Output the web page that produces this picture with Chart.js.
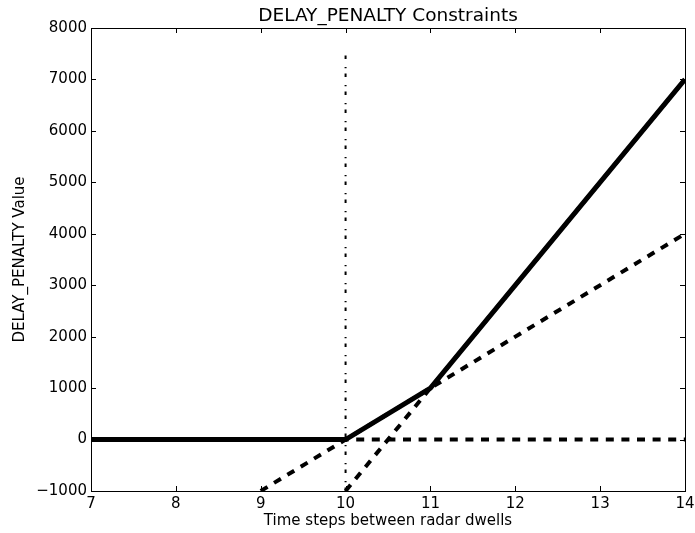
<!DOCTYPE html>
<html>
<head>
<meta charset="utf-8">
<script src="https://cdn.jsdelivr.net/npm/chart.js@4/dist/chart.umd.min.js"></script>
<style>
  html, body { margin: 0; padding: 0; background: #fff; }
  #wrap { width: 695px; height: 533px; }
</style>
</head>
<body>
<div id="wrap"><canvas id="chart" width="695" height="533"></canvas></div>
<script>
"use strict";

// penalty curve (the max of the constraints)
const penaltyX = [7, 10, 11, 14];
const penaltyY = [0, 0, 1000, 7000];

// constraint lines
const zeroX = [7, 14];
const zeroY = [0, 0];
const slowX = [9, 14];
const slowY = [-1000, 4000];
const fastX = [10, 14];
const fastY = [-1000, 7000];

// vertical marker at the dwell limit
const limitX = [10, 10];
const limitY = [-1000, 7500];

const xTicks = [7, 8, 9, 10, 11, 12, 13, 14];
const yTicks = [-1000, 0, 1000, 2000, 3000, 4000, 5000, 6000, 7000, 8000];

const FONT = "'DejaVu Sans', sans-serif";

function toPoints(xs, ys) {
  return xs.map((x, i) => ({ x: x, y: ys[i] }));
}

function lineSet(xs, ys, width, dash) {
  return {
    data: toPoints(xs, ys),
    borderColor: '#000',
    borderWidth: width,
    borderDash: dash,
    borderCapStyle: 'butt',
    borderJoinStyle: 'miter',
    pointRadius: 0,
    tension: 0,
    fill: false
  };
}

/**
 * Draws the axes frame and the inward tick marks on all four sides.
 */
const framePlugin = {
  id: 'frame',
  afterDraw(chart) {
    const ctx = chart.ctx;
    const area = chart.chartArea;
    const xs = chart.scales.x;
    const ys = chart.scales.y;
    const len = 5;
    ctx.save();
    ctx.strokeStyle = '#000';
    ctx.lineWidth = 1;
    ctx.beginPath();
    xTicks.forEach(v => {
      const px = Math.round(xs.getPixelForValue(v)) + 0.5;
      ctx.moveTo(px, area.bottom);
      ctx.lineTo(px, area.bottom - len);
      ctx.moveTo(px, area.top);
      ctx.lineTo(px, area.top + len);
    });
    yTicks.forEach(v => {
      const py = Math.round(ys.getPixelForValue(v)) + 0.5;
      ctx.moveTo(area.left, py);
      ctx.lineTo(area.left + len, py);
      ctx.moveTo(area.right, py);
      ctx.lineTo(area.right - len, py);
    });
    ctx.stroke();
    ctx.strokeRect(Math.round(area.left) + 0.5, Math.round(area.top) + 0.5,
      Math.round(area.right - area.left), Math.round(area.bottom - area.top));
    ctx.restore();
  }
};

new Chart(document.getElementById('chart'), {
  type: 'line',
  data: {
    datasets: [
      lineSet(penaltyX, penaltyY, 5, []),
      lineSet(zeroX, zeroY, 4, [8, 7.6]),
      lineSet(slowX, slowY, 4, [8, 7.6]),
      lineSet(fastX, fastY, 4, [8, 7.6]),
      lineSet(limitX, limitY, 2, [3.4, 5.3, 1.4, 7.9])
    ]
  },
  options: {
    responsive: false,
    animation: false,
    devicePixelRatio: 1,
    layout: { padding: { left: 0, right: 0, top: 0, bottom: 0 } },
    plugins: {
      legend: { display: false },
      tooltip: { enabled: false },
      title: {
        display: true,
        fullSize: false,
        text: 'DELAY_PENALTY Constraints',
        color: '#000',
        font: { family: FONT, size: 18.5, weight: 'normal', lineHeight: 1.2 },
        padding: { top: 5.4, bottom: 0.4 }
      }
    },
    scales: {
      x: {
        type: 'linear',
        min: 7,
        max: 14,
        afterBuildTicks: scale => { scale.ticks = xTicks.map(v => ({ value: v })); },
        afterFit: scale => {
          scale.height = 42;
          scale.paddingLeft = 0;
          scale.paddingRight = 10;
        },
        grid: { display: false, drawTicks: false },
        border: { display: false },
        ticks: {
          color: '#000',
          padding: 4,
          maxRotation: 0,
          font: { family: FONT, size: 15 }
        },
        title: {
          display: true,
          text: 'Time steps between radar dwells',
          color: '#000',
          font: { family: FONT, size: 15, lineHeight: 1.2 },
          padding: { top: 0, bottom: 3 }
        }
      },
      y: {
        type: 'linear',
        min: -1000,
        max: 8000,
        afterBuildTicks: scale => { scale.ticks = yTicks.map(v => ({ value: v })); },
        afterFit: scale => { scale.width = 91; },
        grid: { display: false, drawTicks: false },
        border: { display: false },
        ticks: {
          color: '#000',
          padding: 4,
          font: { family: FONT, size: 15 },
          callback: v => (v < 0 ? '\u2212' + Math.abs(v) : String(v))
        },
        title: {
          display: true,
          text: 'DELAY_PENALTY Value',
          color: '#000',
          font: { family: FONT, size: 15, lineHeight: 1.2 },
          padding: { top: 11, bottom: 0 }
        }
      }
    }
  },
  plugins: [framePlugin]
});
</script>
</body>
</html>
